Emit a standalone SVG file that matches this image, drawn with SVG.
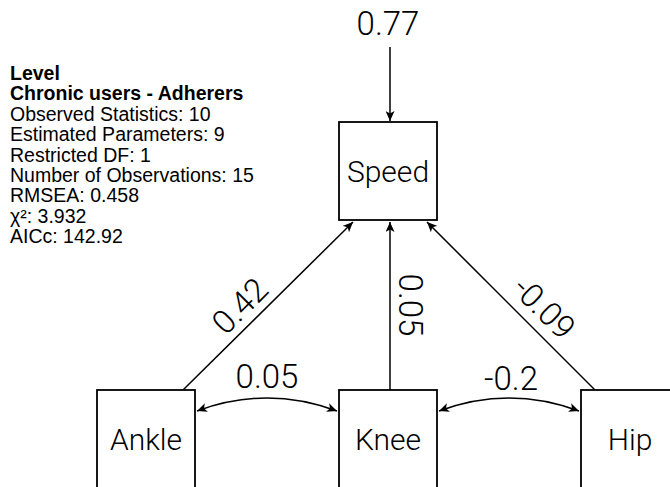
<svg xmlns="http://www.w3.org/2000/svg" width="670" height="487" viewBox="0 0 670 487">
  <style>
    .box { fill: #ffffff; stroke: #000000; stroke-width: 1.8; }
    .edge { fill: none; stroke: #000000; stroke-width: 1.5; }
    .node-label { font-family: "Roboto", "Liberation Sans", sans-serif; font-weight: 300; font-size: 30px; fill: #000000; text-anchor: middle; }
    .edge-label { font-family: "Roboto", "Liberation Sans", sans-serif; font-weight: 300; font-size: 33px; fill: #000000; text-anchor: middle; }
    .info { font-family: "Liberation Sans", Arial, sans-serif; font-size: 19.5px; fill: #000000; }
    .info-bold { font-weight: bold; }
  </style>
  <defs>
    <marker id="arrow" markerUnits="userSpaceOnUse" markerWidth="11" markerHeight="9" refX="10" refY="4.5" orient="auto-start-reverse" viewBox="0 0 11 9">
      <path d="M0,0 L10,4.5 L0,9 L2.5,4.5 z" fill="#000000"/>
    </marker>
  </defs>

  <g id="info">
    <text class="info info-bold" x="10" y="80">Level</text>
    <text class="info info-bold" x="10" y="100.4">Chronic users - Adherers</text>
    <text class="info" x="10" y="120.8">Observed Statistics: 10</text>
    <text class="info" x="10" y="141.2">Estimated Parameters: 9</text>
    <text class="info" x="10" y="161.6">Restricted DF: 1</text>
    <text class="info" x="10" y="182">Number of Observations: 15</text>
    <text class="info" x="10" y="202.4">RMSEA: 0.458</text>
    <text class="info" x="10" y="222.8">χ²: 3.932</text>
    <text class="info" x="10" y="243.2">AICc: 142.92</text>
  </g>

  <g id="connectors">
    <line class="edge" x1="390" y1="47" x2="390" y2="121" marker-end="url(#arrow)"/>
    <line class="edge" x1="183" y1="390" x2="353" y2="222" marker-end="url(#arrow)"/>
    <line class="edge" x1="390" y1="390" x2="390" y2="222" marker-end="url(#arrow)"/>
    <line class="edge" x1="595" y1="390" x2="427" y2="222" marker-end="url(#arrow)"/>
    <path class="edge" d="M197,411 Q267,385 337,411" marker-start="url(#arrow)" marker-end="url(#arrow)"/>
    <path class="edge" d="M439,411 Q509,385 579,411" marker-start="url(#arrow)" marker-end="url(#arrow)"/>
    <text class="edge-label" x="388" y="35">0.77</text>
    <text class="edge-label" transform="translate(248,314) rotate(-45)">0.42</text>
    <text class="edge-label" transform="translate(399,305) rotate(90)">0.05</text>
    <text class="edge-label" transform="translate(536,316) rotate(45)">-0.09</text>
    <text class="edge-label" x="267" y="388">0.05</text>
    <text class="edge-label" x="511" y="390">-0.2</text>
  </g>

  <g id="node-speed">
    <rect class="box" x="339" y="122" width="98" height="98"/>
    <text class="node-label" x="388" y="182">Speed</text>
  </g>
  <g id="node-ankle">
    <rect class="box" x="97" y="390" width="98" height="120"/>
    <text class="node-label" x="146" y="450">Ankle</text>
  </g>
  <g id="node-knee">
    <rect class="box" x="339" y="390" width="98" height="120"/>
    <text class="node-label" x="388" y="450">Knee</text>
  </g>
  <g id="node-hip">
    <rect class="box" x="581" y="390" width="98" height="120"/>
    <text class="node-label" x="630" y="450">Hip</text>
  </g>
</svg>
